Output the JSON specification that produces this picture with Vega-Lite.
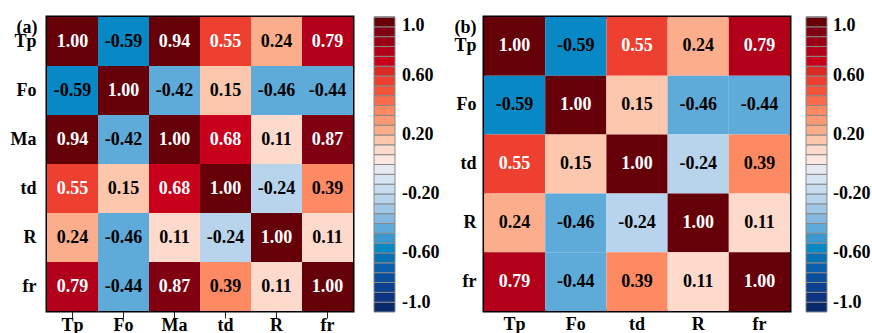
{
  "$schema": "https://vega.github.io/schema/vega-lite/v6.json",
  "padding": {"left": 8, "top": 15, "right": 0, "bottom": 0},
  "background": "white",
  "datasets": {
    "a": [
      {"row": "Tp", "col": "Tp", "v": 1.00}, {"row": "Tp", "col": "Fo", "v": -0.59}, {"row": "Tp", "col": "Ma", "v": 0.94}, {"row": "Tp", "col": "td", "v": 0.55}, {"row": "Tp", "col": "R", "v": 0.24}, {"row": "Tp", "col": "fr", "v": 0.79},
      {"row": "Fo", "col": "Tp", "v": -0.59}, {"row": "Fo", "col": "Fo", "v": 1.00}, {"row": "Fo", "col": "Ma", "v": -0.42}, {"row": "Fo", "col": "td", "v": 0.15}, {"row": "Fo", "col": "R", "v": -0.46}, {"row": "Fo", "col": "fr", "v": -0.44},
      {"row": "Ma", "col": "Tp", "v": 0.94}, {"row": "Ma", "col": "Fo", "v": -0.42}, {"row": "Ma", "col": "Ma", "v": 1.00}, {"row": "Ma", "col": "td", "v": 0.68}, {"row": "Ma", "col": "R", "v": 0.11}, {"row": "Ma", "col": "fr", "v": 0.87},
      {"row": "td", "col": "Tp", "v": 0.55}, {"row": "td", "col": "Fo", "v": 0.15}, {"row": "td", "col": "Ma", "v": 0.68}, {"row": "td", "col": "td", "v": 1.00}, {"row": "td", "col": "R", "v": -0.24}, {"row": "td", "col": "fr", "v": 0.39},
      {"row": "R", "col": "Tp", "v": 0.24}, {"row": "R", "col": "Fo", "v": -0.46}, {"row": "R", "col": "Ma", "v": 0.11}, {"row": "R", "col": "td", "v": -0.24}, {"row": "R", "col": "R", "v": 1.00}, {"row": "R", "col": "fr", "v": 0.11},
      {"row": "fr", "col": "Tp", "v": 0.79}, {"row": "fr", "col": "Fo", "v": -0.44}, {"row": "fr", "col": "Ma", "v": 0.87}, {"row": "fr", "col": "td", "v": 0.39}, {"row": "fr", "col": "R", "v": 0.11}, {"row": "fr", "col": "fr", "v": 1.00}
    ],
    "b": [
      {"row": "Tp", "col": "Tp", "v": 1.00}, {"row": "Tp", "col": "Fo", "v": -0.59}, {"row": "Tp", "col": "td", "v": 0.55}, {"row": "Tp", "col": "R", "v": 0.24}, {"row": "Tp", "col": "fr", "v": 0.79},
      {"row": "Fo", "col": "Tp", "v": -0.59}, {"row": "Fo", "col": "Fo", "v": 1.00}, {"row": "Fo", "col": "td", "v": 0.15}, {"row": "Fo", "col": "R", "v": -0.46}, {"row": "Fo", "col": "fr", "v": -0.44},
      {"row": "td", "col": "Tp", "v": 0.55}, {"row": "td", "col": "Fo", "v": 0.15}, {"row": "td", "col": "td", "v": 1.00}, {"row": "td", "col": "R", "v": -0.24}, {"row": "td", "col": "fr", "v": 0.39},
      {"row": "R", "col": "Tp", "v": 0.24}, {"row": "R", "col": "Fo", "v": -0.46}, {"row": "R", "col": "td", "v": -0.24}, {"row": "R", "col": "R", "v": 1.00}, {"row": "R", "col": "fr", "v": 0.11},
      {"row": "fr", "col": "Tp", "v": 0.79}, {"row": "fr", "col": "Fo", "v": -0.44}, {"row": "fr", "col": "td", "v": 0.39}, {"row": "fr", "col": "R", "v": 0.11}, {"row": "fr", "col": "fr", "v": 1.00}
    ]
  },
  "config": {
    "font": "Liberation Serif",
    "locale": {"number": {"decimal": ".", "thousands": ",", "grouping": [3], "currency": ["$", ""], "minus": "-"}},
    "view": {"stroke": "black", "strokeWidth": 3},
    "axis": {"labelFont": "Liberation Serif", "labelFontSize": 18, "labelFontWeight": "bold", "labelColor": "black", "domain": false, "ticks": false, "grid": false},
    "legend": {"labelFont": "Liberation Serif", "labelFontSize": 18, "labelFontWeight": "bold", "labelColor": "black", "padding": 0}
  },
  "resolve": {"scale": {"color": "independent"}},
  "spacing": 10,
  "hconcat": [
    {
      "width": 306,
      "height": 294,
      "data": {"name": "a"},
      "encoding": {
        "x": {"field": "col", "type": "nominal", "sort": ["Tp", "Fo", "Ma", "td", "R", "fr"], "axis": {"orient": "bottom", "labelAngle": 0, "ticks": true, "tickSize": 7, "tickColor": "#222", "tickWidth": 1, "labelPadding": -2, "title": null}},
        "y": {"field": "row", "type": "nominal", "sort": ["Tp", "Fo", "Ma", "td", "R", "fr"], "axis": {"labelPadding": 11, "title": "(a)", "titleAngle": 0, "titleX": -31, "titleY": 15, "titleAlign": "left", "titleBaseline": "alphabetic", "titleFont": "Liberation Serif", "titleFontSize": 18, "titleFontWeight": "bold", "titleColor": "black"}}
      },
      "layer": [
        {
          "mark": {"type": "rect"},
          "encoding": {
            "color": {"field": "v", "type": "quantitative",
              "scale": {"type": "quantize", "domain": [-1, 1], "nice": false, "range": ["#0b2a6c", "#0c3480", "#0b4190", "#0a4e9d", "#0a5eab", "#0a70b6", "#0888c4", "#3a98cf", "#5eaad8", "#85b9df", "#9fc7e6", "#b7d4ec", "#c8dcf0", "#d8e4f3", "#e6e9f2", "#fce8e1", "#fedacc", "#fdc7ae", "#fcae8c", "#fc9a74", "#fd8a62", "#f96d4c", "#f2553a", "#ee4030", "#da2a26", "#c8001c", "#b2001b", "#9a0016", "#800012", "#660008"]},
              "legend": {"type": "gradient", "title": null, "orient": "right", "direction": "vertical", "offset": 21, "gradientLength": 295, "gradientThickness": 21, "gradientStrokeColor": "#888", "gradientStrokeWidth": 1,
                "values": [-1, -0.93333, -0.86666, -0.79999, -0.73333, -0.66666, -0.59999, -0.53333, -0.46666, -0.39999, -0.33333, -0.26666, -0.19999, -0.13333, -0.06666, 0.00001, 0.06667, 0.13334, 0.20001, 0.26667, 0.33334, 0.40001, 0.46667, 0.53334, 0.60001, 0.66667, 0.73334, 0.80001, 0.86667, 0.93334, 1],
                "labelExpr": "abs(datum.value) > 0.99 ? (datum.value > 0 ? '1.0' : '-1.0') : (abs(abs(datum.value) - 0.6) < 0.01 || abs(abs(datum.value) - 0.2) < 0.01) ? (datum.value < 0 ? '-' : '') + format(abs(datum.value), '.2f') : ''", "labelOffset": 7, "labelBaseline": "middle", "labelOverlap": false}
            }
          }
        },
        {
          "mark": {"type": "text", "font": "Liberation Serif", "fontSize": 18, "fontWeight": "bold"},
          "encoding": {
            "text": {"field": "v", "type": "quantitative", "format": ".2f"},
            "color": {"condition": {"test": "datum.v > 0.5", "value": "white"}, "value": "black"}
          }
        }
      ]
    },
    {
      "width": 306,
      "height": 294,
      "data": {"name": "b"},
      "encoding": {
        "x": {"field": "col", "type": "nominal", "sort": ["Tp", "Fo", "td", "R", "fr"], "axis": {"orient": "bottom", "labelAngle": 0, "labelPadding": 4, "title": null}},
        "y": {"field": "row", "type": "nominal", "sort": ["Tp", "Fo", "td", "R", "fr"], "axis": {"labelPadding": 8, "title": "(b)", "titleAngle": 0, "titleX": -30, "titleY": 15, "titleAlign": "left", "titleBaseline": "alphabetic", "titleFont": "Liberation Serif", "titleFontSize": 18, "titleFontWeight": "bold", "titleColor": "black"}}
      },
      "layer": [
        {
          "mark": {"type": "rect"},
          "encoding": {
            "color": {"field": "v", "type": "quantitative",
              "scale": {"type": "quantize", "domain": [-1, 1], "nice": false, "range": ["#0b2a6c", "#0c3480", "#0b4190", "#0a4e9d", "#0a5eab", "#0a70b6", "#0888c4", "#3a98cf", "#5eaad8", "#85b9df", "#9fc7e6", "#b7d4ec", "#c8dcf0", "#d8e4f3", "#e6e9f2", "#fce8e1", "#fedacc", "#fdc7ae", "#fcae8c", "#fc9a74", "#fd8a62", "#f96d4c", "#f2553a", "#ee4030", "#da2a26", "#c8001c", "#b2001b", "#9a0016", "#800012", "#660008"]},
              "legend": {"type": "gradient", "title": null, "orient": "right", "direction": "vertical", "offset": 16, "gradientLength": 295, "gradientThickness": 21, "gradientStrokeColor": "#888", "gradientStrokeWidth": 1,
                "values": [-1, -0.93333, -0.86666, -0.79999, -0.73333, -0.66666, -0.59999, -0.53333, -0.46666, -0.39999, -0.33333, -0.26666, -0.19999, -0.13333, -0.06666, 0.00001, 0.06667, 0.13334, 0.20001, 0.26667, 0.33334, 0.40001, 0.46667, 0.53334, 0.60001, 0.66667, 0.73334, 0.80001, 0.86667, 0.93334, 1],
                "labelExpr": "abs(datum.value) > 0.99 ? (datum.value > 0 ? '1.0' : '-1.0') : (abs(abs(datum.value) - 0.6) < 0.01 || abs(abs(datum.value) - 0.2) < 0.01) ? (datum.value < 0 ? '-' : '') + format(abs(datum.value), '.2f') : ''", "labelOffset": 6, "labelBaseline": "middle", "labelOverlap": false}
            }
          }
        },
        {
          "mark": {"type": "text", "font": "Liberation Serif", "fontSize": 18, "fontWeight": "bold"},
          "encoding": {
            "text": {"field": "v", "type": "quantitative", "format": ".2f"},
            "color": {"condition": {"test": "datum.v > 0.5", "value": "white"}, "value": "black"}
          }
        }
      ]
    }
  ]
}
